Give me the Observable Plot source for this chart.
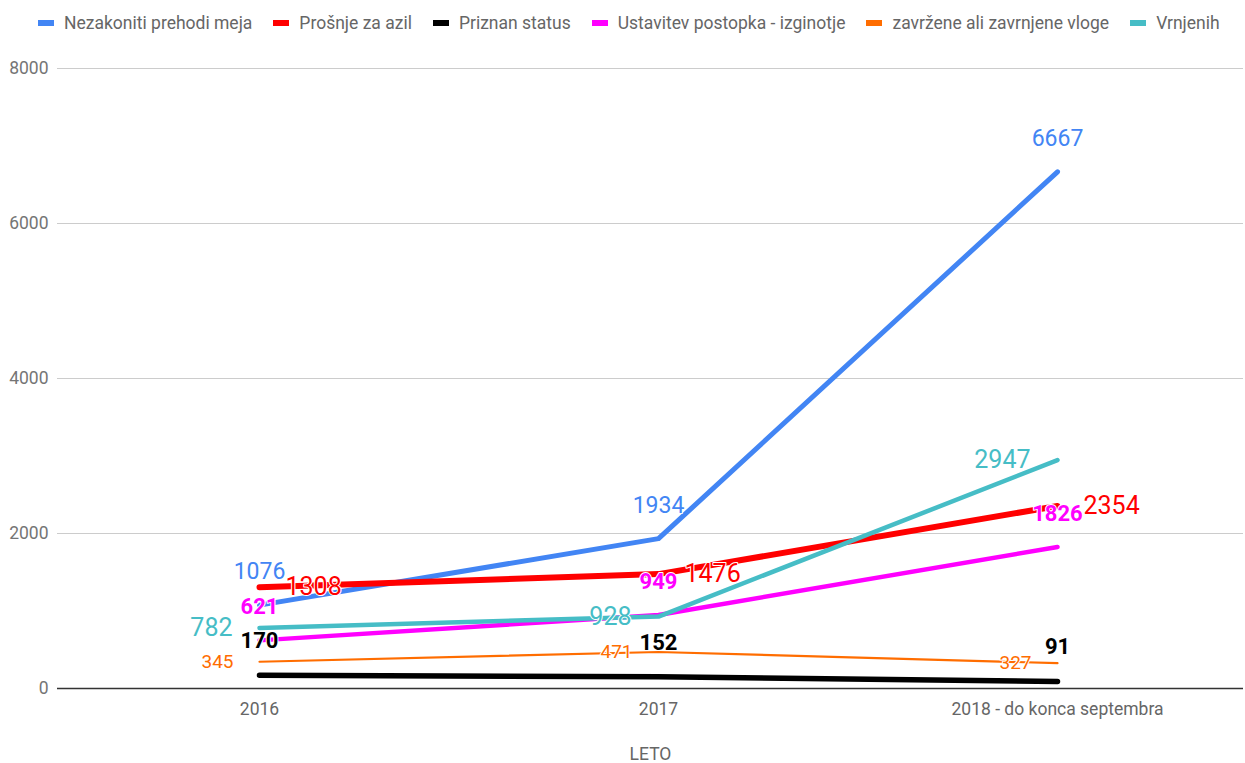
<!DOCTYPE html>
<html>
<head>
<meta charset="utf-8">
<script src="https://cdn.jsdelivr.net/npm/d3@7"></script>
<script src="https://cdn.jsdelivr.net/npm/@observablehq/plot@0.6"></script>
<style>
  html, body { margin: 0; padding: 0; background: #fff; }
  body { width: 1245px; height: 763px; overflow: hidden; font-family: Roboto, sans-serif; }
  #legend { height: 45px; display: flex; align-items: center; padding-left: 38px; font-size: 17.5px; color: #666; box-sizing: border-box; }
  .item { display: flex; align-items: center; margin-right: 21px; white-space: nowrap; }
  .sw { width: 16px; height: 6px; margin-right: 10px; }
</style>
</head>
<body>
<div id="legend"></div>
<div id="chart"></div>
<script>
const years = ["2016", "2017", "2018 - do konca septembra"];
const seriesNames = ["Nezakoniti prehodi meja", "Prošnje za azil", "Priznan status", "Ustavitev postopka - izginotje", "zavržene ali zavrnjene vloge", "Vrnjenih"];
const nezakoniti = [1076, 1934, 6667];
const prosnje = [1308, 1476, 2354];
const priznan = [170, 152, 91];
const ustavitev = [621, 949, 1826];
const zavrzene = [345, 471, 327];
const vrnjenih = [782, 928, 2947];
const yTicks = [0, 2000, 4000, 6000, 8000];
const colors = ["#4285F4", "#FF0000", "#000000", "#FF00FF", "#FF6D00", "#46BDC6"];

const values = [nezakoniti, prosnje, priznan, ustavitev, zavrzene, vrnjenih];
const data = [];
seriesNames.forEach((s, si) => years.forEach((y, yi) => data.push({series: s, si, yi, year: y, value: values[si][yi]})));

// legend
const leg = document.getElementById("legend");
seriesNames.forEach((s, i) => {
  const it = document.createElement("div"); it.className = "item";
  const sw = document.createElement("div"); sw.className = "sw"; sw.style.background = colors[i];
  const tx = document.createElement("span"); tx.textContent = s;
  it.appendChild(sw); it.appendChild(tx); leg.appendChild(it);
});

const widths = [5, 6, 5.5, 4.5, 2.2, 4.5];
// label styling per series
const lab = [
  {dx: 0, dy: -33, anchor: "middle", size: 23, weight: "normal"},
  {dx: 26, dy: 0, anchor: "start", size: 25, weight: "normal"},
  {dx: 0, dy: -34, anchor: "middle", size: 22, weight: "bold"},
  {dx: 0, dy: -33, anchor: "middle", size: 22, weight: "bold"},
  {dx: -26, dy: 0, anchor: "end", size: 19, weight: "normal"},
  {dx: -27, dy: 0, anchor: "end", size: 25, weight: "normal"}
];

const marks = [
  Plot.gridY(yTicks, {stroke: "#cccccc", strokeOpacity: 1, strokeWidth: 1}),
  Plot.axisY(yTicks, {tickSize: 0, tickPadding: 9, fontSize: 17.5, fill: "#757575", label: null, tickFormat: d => String(d)}),
  Plot.axisX({tickSize: 0, tickPadding: 14, fontSize: 17.5, fill: "#666", label: "LETO", labelAnchor: "center", labelOffset: 71}),
  Plot.ruleY([0], {stroke: "#333", strokeWidth: 1.5})
];
seriesNames.forEach((s, si) => {
  marks.push(Plot.line(data.filter(d => d.si === si), {x: "year", y: "value", stroke: colors[si], strokeWidth: widths[si]}));
});
seriesNames.forEach((s, si) => {
  const L = lab[si];
  marks.push(Plot.text(data.filter(d => d.si === si), {
    x: "year", y: "value", text: d => String(d.value), fill: colors[si],
    dx: L.dx, dy: L.dy, textAnchor: L.anchor, fontSize: L.size, fontWeight: L.weight,
    stroke: "white", strokeWidth: 2, paintOrder: "stroke", lineAnchor: "middle"
  }));
});

const chart = Plot.plot({
  width: 1245,
  height: 718,
  marginTop: 23,
  marginBottom: 75,
  marginLeft: 57,
  marginRight: 2,
  insetLeft: 2.5,
  insetRight: -13.5,
  style: {fontFamily: "Roboto, sans-serif", background: "white", overflow: "visible"},
  x: {type: "point", domain: years, padding: 0.5},
  y: {domain: [0, 8000]},
  marks
});
document.getElementById("chart").appendChild(chart);
</script>
</body>
</html>
